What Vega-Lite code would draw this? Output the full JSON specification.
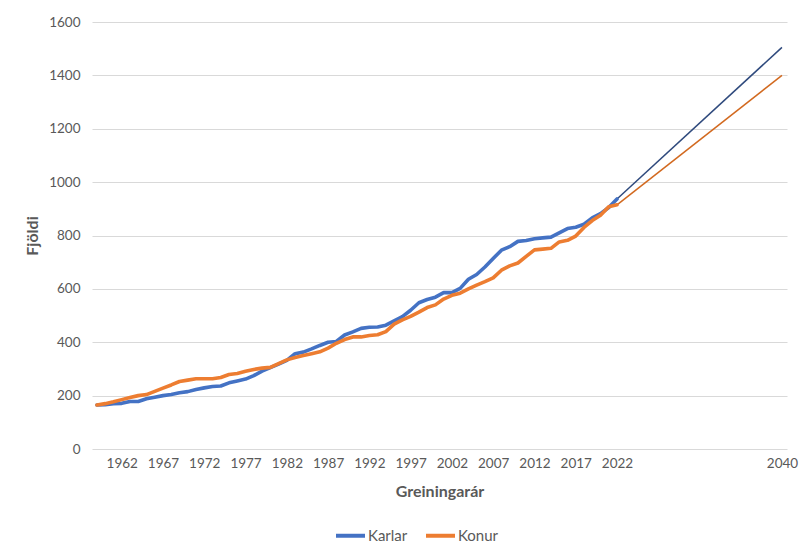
{
  "$schema": "https://vega.github.io/schema/vega-lite/v6.json",
  "width": 695,
  "height": 427,
  "autosize": {"type": "none"},
  "padding": {"left": 92, "top": 22, "right": 21, "bottom": 107},
  "background": "white",
  "config": {
    "view": {"stroke": null},
    "font": "Lato",
    "axis": {
      "labelFont": "Lato",
      "labelFontSize": 13.5,
      "labelColor": "#595959",
      "titleFont": "Lato",
      "titleFontSize": 16,
      "titleFontWeight": "bold",
      "titleColor": "#595959",
      "gridColor": "#D9D9D9",
      "gridWidth": 1,
      "domain": false,
      "ticks": false
    },
    "legend": {"labelFont": "Lato", "labelFontSize": 15, "labelColor": "#595959"}
  },
  "datasets": {
    "saga": [
      {"ar": 1959, "kyn": "Karlar", "fjoldi": 165}, {"ar": 1960, "kyn": "Karlar", "fjoldi": 166},
      {"ar": 1961, "kyn": "Karlar", "fjoldi": 170}, {"ar": 1962, "kyn": "Karlar", "fjoldi": 171},
      {"ar": 1963, "kyn": "Karlar", "fjoldi": 178}, {"ar": 1964, "kyn": "Karlar", "fjoldi": 178},
      {"ar": 1965, "kyn": "Karlar", "fjoldi": 188}, {"ar": 1966, "kyn": "Karlar", "fjoldi": 194},
      {"ar": 1967, "kyn": "Karlar", "fjoldi": 200}, {"ar": 1968, "kyn": "Karlar", "fjoldi": 204},
      {"ar": 1969, "kyn": "Karlar", "fjoldi": 211}, {"ar": 1970, "kyn": "Karlar", "fjoldi": 215},
      {"ar": 1971, "kyn": "Karlar", "fjoldi": 223}, {"ar": 1972, "kyn": "Karlar", "fjoldi": 229},
      {"ar": 1973, "kyn": "Karlar", "fjoldi": 234}, {"ar": 1974, "kyn": "Karlar", "fjoldi": 236},
      {"ar": 1975, "kyn": "Karlar", "fjoldi": 248}, {"ar": 1976, "kyn": "Karlar", "fjoldi": 255},
      {"ar": 1977, "kyn": "Karlar", "fjoldi": 262}, {"ar": 1978, "kyn": "Karlar", "fjoldi": 275},
      {"ar": 1979, "kyn": "Karlar", "fjoldi": 292}, {"ar": 1980, "kyn": "Karlar", "fjoldi": 305},
      {"ar": 1981, "kyn": "Karlar", "fjoldi": 318}, {"ar": 1982, "kyn": "Karlar", "fjoldi": 332},
      {"ar": 1983, "kyn": "Karlar", "fjoldi": 357}, {"ar": 1984, "kyn": "Karlar", "fjoldi": 363},
      {"ar": 1985, "kyn": "Karlar", "fjoldi": 375}, {"ar": 1986, "kyn": "Karlar", "fjoldi": 388},
      {"ar": 1987, "kyn": "Karlar", "fjoldi": 400}, {"ar": 1988, "kyn": "Karlar", "fjoldi": 403},
      {"ar": 1989, "kyn": "Karlar", "fjoldi": 427}, {"ar": 1990, "kyn": "Karlar", "fjoldi": 439},
      {"ar": 1991, "kyn": "Karlar", "fjoldi": 452}, {"ar": 1992, "kyn": "Karlar", "fjoldi": 456},
      {"ar": 1993, "kyn": "Karlar", "fjoldi": 457}, {"ar": 1994, "kyn": "Karlar", "fjoldi": 464},
      {"ar": 1995, "kyn": "Karlar", "fjoldi": 480}, {"ar": 1996, "kyn": "Karlar", "fjoldi": 496},
      {"ar": 1997, "kyn": "Karlar", "fjoldi": 520}, {"ar": 1998, "kyn": "Karlar", "fjoldi": 548},
      {"ar": 1999, "kyn": "Karlar", "fjoldi": 560}, {"ar": 2000, "kyn": "Karlar", "fjoldi": 569},
      {"ar": 2001, "kyn": "Karlar", "fjoldi": 586}, {"ar": 2002, "kyn": "Karlar", "fjoldi": 586},
      {"ar": 2003, "kyn": "Karlar", "fjoldi": 602}, {"ar": 2004, "kyn": "Karlar", "fjoldi": 636},
      {"ar": 2005, "kyn": "Karlar", "fjoldi": 654}, {"ar": 2006, "kyn": "Karlar", "fjoldi": 682},
      {"ar": 2007, "kyn": "Karlar", "fjoldi": 714}, {"ar": 2008, "kyn": "Karlar", "fjoldi": 745},
      {"ar": 2009, "kyn": "Karlar", "fjoldi": 758}, {"ar": 2010, "kyn": "Karlar", "fjoldi": 778},
      {"ar": 2011, "kyn": "Karlar", "fjoldi": 781}, {"ar": 2012, "kyn": "Karlar", "fjoldi": 788},
      {"ar": 2013, "kyn": "Karlar", "fjoldi": 791}, {"ar": 2014, "kyn": "Karlar", "fjoldi": 794},
      {"ar": 2015, "kyn": "Karlar", "fjoldi": 810}, {"ar": 2016, "kyn": "Karlar", "fjoldi": 826},
      {"ar": 2017, "kyn": "Karlar", "fjoldi": 831}, {"ar": 2018, "kyn": "Karlar", "fjoldi": 842},
      {"ar": 2019, "kyn": "Karlar", "fjoldi": 866}, {"ar": 2020, "kyn": "Karlar", "fjoldi": 882},
      {"ar": 2021, "kyn": "Karlar", "fjoldi": 905}, {"ar": 2022, "kyn": "Karlar", "fjoldi": 937},
      {"ar": 1959, "kyn": "Konur", "fjoldi": 165}, {"ar": 1960, "kyn": "Konur", "fjoldi": 170},
      {"ar": 1961, "kyn": "Konur", "fjoldi": 177}, {"ar": 1962, "kyn": "Konur", "fjoldi": 185},
      {"ar": 1963, "kyn": "Konur", "fjoldi": 193}, {"ar": 1964, "kyn": "Konur", "fjoldi": 200},
      {"ar": 1965, "kyn": "Konur", "fjoldi": 204}, {"ar": 1966, "kyn": "Konur", "fjoldi": 216},
      {"ar": 1967, "kyn": "Konur", "fjoldi": 228}, {"ar": 1968, "kyn": "Konur", "fjoldi": 240},
      {"ar": 1969, "kyn": "Konur", "fjoldi": 253}, {"ar": 1970, "kyn": "Konur", "fjoldi": 258},
      {"ar": 1971, "kyn": "Konur", "fjoldi": 263}, {"ar": 1972, "kyn": "Konur", "fjoldi": 263},
      {"ar": 1973, "kyn": "Konur", "fjoldi": 263}, {"ar": 1974, "kyn": "Konur", "fjoldi": 268},
      {"ar": 1975, "kyn": "Konur", "fjoldi": 279}, {"ar": 1976, "kyn": "Konur", "fjoldi": 283},
      {"ar": 1977, "kyn": "Konur", "fjoldi": 291}, {"ar": 1978, "kyn": "Konur", "fjoldi": 298},
      {"ar": 1979, "kyn": "Konur", "fjoldi": 303}, {"ar": 1980, "kyn": "Konur", "fjoldi": 306},
      {"ar": 1981, "kyn": "Konur", "fjoldi": 320}, {"ar": 1982, "kyn": "Konur", "fjoldi": 334},
      {"ar": 1983, "kyn": "Konur", "fjoldi": 343}, {"ar": 1984, "kyn": "Konur", "fjoldi": 350},
      {"ar": 1985, "kyn": "Konur", "fjoldi": 357}, {"ar": 1986, "kyn": "Konur", "fjoldi": 364},
      {"ar": 1987, "kyn": "Konur", "fjoldi": 378}, {"ar": 1988, "kyn": "Konur", "fjoldi": 396},
      {"ar": 1989, "kyn": "Konur", "fjoldi": 410}, {"ar": 1990, "kyn": "Konur", "fjoldi": 420},
      {"ar": 1991, "kyn": "Konur", "fjoldi": 420}, {"ar": 1992, "kyn": "Konur", "fjoldi": 425},
      {"ar": 1993, "kyn": "Konur", "fjoldi": 428}, {"ar": 1994, "kyn": "Konur", "fjoldi": 440},
      {"ar": 1995, "kyn": "Konur", "fjoldi": 468}, {"ar": 1996, "kyn": "Konur", "fjoldi": 484},
      {"ar": 1997, "kyn": "Konur", "fjoldi": 497}, {"ar": 1998, "kyn": "Konur", "fjoldi": 513},
      {"ar": 1999, "kyn": "Konur", "fjoldi": 530}, {"ar": 2000, "kyn": "Konur", "fjoldi": 540},
      {"ar": 2001, "kyn": "Konur", "fjoldi": 562}, {"ar": 2002, "kyn": "Konur", "fjoldi": 576},
      {"ar": 2003, "kyn": "Konur", "fjoldi": 584}, {"ar": 2004, "kyn": "Konur", "fjoldi": 600},
      {"ar": 2005, "kyn": "Konur", "fjoldi": 614}, {"ar": 2006, "kyn": "Konur", "fjoldi": 627},
      {"ar": 2007, "kyn": "Konur", "fjoldi": 641}, {"ar": 2008, "kyn": "Konur", "fjoldi": 670},
      {"ar": 2009, "kyn": "Konur", "fjoldi": 686}, {"ar": 2010, "kyn": "Konur", "fjoldi": 697},
      {"ar": 2011, "kyn": "Konur", "fjoldi": 722}, {"ar": 2012, "kyn": "Konur", "fjoldi": 746},
      {"ar": 2013, "kyn": "Konur", "fjoldi": 749}, {"ar": 2014, "kyn": "Konur", "fjoldi": 752},
      {"ar": 2015, "kyn": "Konur", "fjoldi": 776}, {"ar": 2016, "kyn": "Konur", "fjoldi": 782},
      {"ar": 2017, "kyn": "Konur", "fjoldi": 798}, {"ar": 2018, "kyn": "Konur", "fjoldi": 830},
      {"ar": 2019, "kyn": "Konur", "fjoldi": 856}, {"ar": 2020, "kyn": "Konur", "fjoldi": 876},
      {"ar": 2021, "kyn": "Konur", "fjoldi": 908}, {"ar": 2022, "kyn": "Konur", "fjoldi": 915}
    ],
    "spa": [
      {"ar": 2022, "kyn": "Karlar", "fjoldi": 937}, {"ar": 2040, "kyn": "Karlar", "fjoldi": 1505},
      {"ar": 2022, "kyn": "Konur", "fjoldi": 915}, {"ar": 2040, "kyn": "Konur", "fjoldi": 1400}
    ]
  },
  "encoding": {
    "x": {
      "field": "ar",
      "type": "quantitative",
      "title": "Greiningarár",
      "scale": {"domain": [1958.4, 2022, 2040.55], "range": [0, 525, 695], "nice": false, "zero": false},
      "axis": {
        "values": [1962, 1967, 1972, 1977, 1982, 1987, 1992, 1997, 2002, 2007, 2012, 2017, 2022, 2040],
        "format": "d",
        "grid": false,
        "labelPadding": 7,
        "titlePadding": 14
      }
    },
    "y": {
      "field": "fjoldi",
      "type": "quantitative",
      "title": "Fjöldi",
      "scale": {"domain": [0, 1600], "nice": false},
      "axis": {"values": [0, 200, 400, 600, 800, 1000, 1200, 1400, 1600], "format": "d", "labelPadding": 12, "titlePadding": 8}
    }
  },
  "layer": [
    {
      "data": {"name": "spa"},
      "mark": {"type": "line", "strokeWidth": 1.5, "strokeJoin": "round"},
      "encoding": {
        "color": {
          "field": "kyn",
          "type": "nominal",
          "scale": {"domain": ["Karlar", "Konur"], "range": ["#2F4A7D", "#D2691F"]},
          "legend": null
        }
      }
    },
    {
      "data": {"name": "saga"},
      "mark": {"type": "line", "strokeWidth": 3.6, "strokeJoin": "round", "strokeCap": "round"},
      "encoding": {
        "color": {
          "field": "kyn",
          "type": "nominal",
          "scale": {"domain": ["Karlar", "Konur"], "range": ["#4472C4", "#ED7D31"]},
          "legend": {
            "title": null,
            "orient": "none",
            "direction": "horizontal",
            "legendX": 242,
            "legendY": 497,
            "symbolType": "stroke",
            "symbolStrokeWidth": 4,
            "symbolSize": 841,
            "labelOffset": 1,
            "columnPadding": 10
          }
        }
      }
    }
  ],
  "resolve": {"scale": {"color": "independent"}}
}
